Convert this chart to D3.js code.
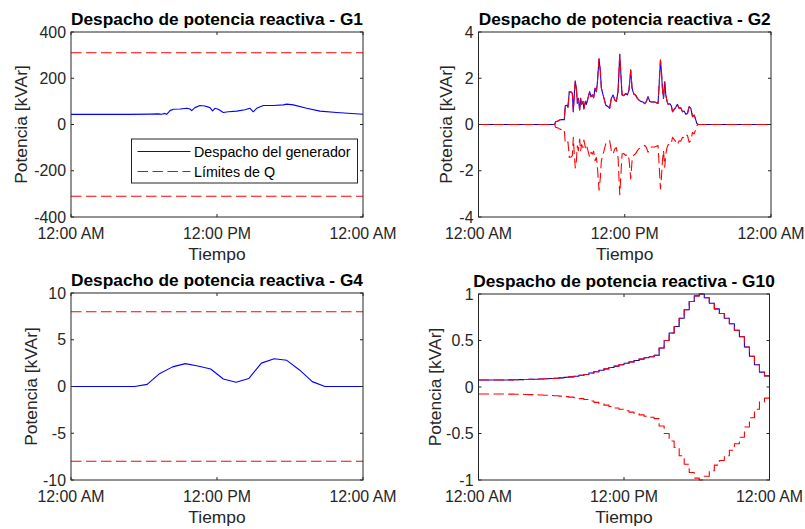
<!DOCTYPE html>
<html><head><meta charset="utf-8">
<script src="https://cdn.jsdelivr.net/npm/d3@7"></script>
<style>
html,body{margin:0;padding:0;background:#fff;}
svg{display:block;font-family:"Liberation Sans",Arial,Helvetica,sans-serif;}
</style></head>
<body><svg id="c" width="805" height="529"></svg>
<script>
// ---------- DATA ----------
const xTickHours = [0, 12, 24];
const xTickLabels = ["12:00 AM", "12:00 PM", "12:00 AM"];
const titles = ["Despacho de potencia reactiva - G1", "Despacho de potencia reactiva - G2",
                "Despacho de potencia reactiva - G4", "Despacho de potencia reactiva - G10"];
const legendLabels = ["Despacho del generador", "Límites de Q"];

// G1
const g1Hours = [0, 4.85, 6.5, 7.17, 7.45, 7.72, 7.86, 8.14, 8.41, 8.96, 9.51, 9.78, 9.92, 10.19, 10.6, 11.0, 11.42, 11.64, 11.83, 12.1, 12.52, 12.93, 13.62, 14.3, 14.71, 14.98, 15.26, 15.81, 16.63, 17.45, 17.73, 18.27, 19.37, 20.46, 21.83, 24];
const g1Disp  = [44, 44, 45, 46, 44, 48, 44, 60, 66, 67, 70, 67, 60, 73, 82, 80, 73, 59, 70, 66, 52, 55, 58, 64, 70, 55, 70, 82, 82, 85, 88, 85, 70, 58, 52, 44];
const g1Limits = [-310, 310];
const g1YTicks = [-400, -200, 0, 200, 400];

// G2
const g2Hours = [0, 6.25, 6.33, 6.52, 6.71, 7.04, 7.12, 7.26, 7.34, 7.45, 7.61, 7.70, 7.78, 7.86, 7.94, 8.03, 8.11, 8.19, 8.30, 8.38, 8.46, 8.57, 8.65, 8.77, 8.85, 8.98, 9.12, 9.23, 9.34, 9.45, 9.56, 9.67, 9.75, 9.89, 10.0, 10.08, 10.22, 10.30, 10.44, 10.63, 10.76, 10.90, 11.04, 11.18, 11.31, 11.45, 11.59, 11.67, 11.78, 11.91, 12.08, 12.22, 12.35, 12.49, 12.60, 12.68, 12.76, 12.87, 13.04, 13.15, 13.31, 13.50, 13.64, 13.78, 13.91, 14.05, 14.19, 14.46, 14.73, 14.82, 14.93, 15.01, 15.09, 15.18, 15.28, 15.37, 15.47, 15.56, 15.69, 15.83, 15.92, 16.02, 16.16, 16.32, 16.46, 16.60, 16.74, 16.87, 17.01, 17.15, 17.28, 17.42, 17.56, 17.69, 17.81, 17.91, 18.02, 24];
const g2Disp  = [0, 0, 0.12, 0.15, 0.21, 0.21, 0.81, 0.83, 0.75, 1.42, 1.40, 1.35, 0.55, 1.30, 1.88, 1.57, 0.92, 1.13, 0.63, 1.13, 0.87, 1.0, 0.67, 1.0, 0.87, 1.13, 1.42, 1.2, 1.28, 1.16, 1.57, 1.42, 1.78, 2.84, 2.29, 1.57, 1.28, 1.13, 0.84, 0.77, 0.70, 1.13, 1.28, 1.06, 1.0, 1.42, 3.04, 2.29, 1.28, 1.25, 1.34, 1.28, 1.5, 2.36, 1.57, 1.42, 1.31, 1.28, 1.13, 1.06, 1.0, 0.97, 0.9, 1.0, 1.2, 1.0, 0.97, 0.97, 0.91, 1.71, 2.79, 2.29, 1.57, 1.13, 1.85, 1.28, 1.0, 0.87, 0.9, 0.8, 0.55, 0.62, 0.72, 0.87, 0.70, 0.72, 0.55, 0.58, 0.44, 0.48, 0.77, 0.70, 0.34, 0.41, 0.23, 0.05, 0, 0];
const g2QMax = g2Disp;   // upper reactive limit follows the dispatch
const g2YTicks = [-4, -2, 0, 2, 4];

// G4 (24 samples spanning the day)
const g4Hours = [0, 1.04, 2.09, 3.13, 4.17, 5.22, 6.26, 7.30, 8.35, 9.39, 10.43, 11.48, 12.52, 13.57, 14.61, 15.65, 16.70, 17.74, 18.78, 19.83, 20.87, 21.91, 22.96, 24];
const g4Disp  = [0, 0, 0, 0, 0, 0, 0.23, 1.4, 2.1, 2.45, 2.2, 1.87, 0.8, 0.45, 0.85, 2.5, 2.97, 2.8, 1.77, 0.52, 0, 0, 0, 0];
const g4Limits = [-8, 8];
const g4YTicks = [-10, -5, 0, 5, 10];

// G10 (59 stair samples spanning the day)
const g10Disp = [0.075, 0.075, 0.075, 0.075, 0.076, 0.076, 0.077, 0.078, 0.079, 0.080,
                 0.082, 0.084, 0.086, 0.088, 0.091, 0.094, 0.098, 0.103, 0.109, 0.116,
                 0.125, 0.135, 0.15, 0.165, 0.18, 0.195, 0.21, 0.225, 0.24, 0.255,
                 0.27, 0.285, 0.30, 0.315, 0.325, 0.34, 0.42, 0.50, 0.58, 0.65,
                 0.74, 0.83, 0.92, 0.98, 1.0, 0.96, 0.90, 0.84, 0.79, 0.74,
                 0.68, 0.61, 0.54, 0.43, 0.33, 0.24, 0.16, 0.12, 0.12];
const g10Hours = g10Disp.map((_, k) => k * 24 / (g10Disp.length - 1));
const g10QMax = g10Disp;
const g10YTicks = [-1, -0.5, 0, 0.5, 1];

// ---------- DRAW ----------
const svg = d3.select("#c");
const AX = "#262626", BLUE = "#0000ff", RED = "#ff0000";
const DASH = "10.5,4.5";
const TICKFS = 15.9, LABFS = 17.4, TITFS = 17.3, LEGFS = 14.3;

const panels = [
  {box:[71, 363, 32, 217],   yd:[-400, 400], yt:g1YTicks, title:titles[0], ylx:21},
  {box:[478.5, 771, 32, 217], yd:[-4, 4], yt:g2YTicks, title:titles[1], ylx:445.5},
  {box:[71, 363, 293, 480],  yd:[-10, 10], yt:g4YTicks, title:titles[2], ylx:30.5},
  {box:[478.5, 769.5, 294, 480], yd:[-1, 1], yt:g10YTicks, title:titles[3], ylx:434.5}
];

panels.forEach((p, i) => {
  const [l, r, t, b] = p.box;
  p.x = d3.scaleLinear().domain([0, 24]).range([l, r]);
  p.y = d3.scaleLinear().domain(p.yd).range([b, t]);
  const g = svg.append("g");
  p.g = g;
  g.append("rect").attr("x", l).attr("y", t).attr("width", r - l).attr("height", b - t).attr("fill", "#fff");
  p.clip = "clip" + i;
  svg.append("clipPath").attr("id", p.clip).append("rect")
    .attr("x", l).attr("y", t - 1).attr("width", r - l).attr("height", b - t + 2);
  p.plot = g.append("g").attr("clip-path", `url(#${p.clip})`);
});

function line(p, xs, ys, color, dashed, curve) {
  const gen = d3.line().x(d => p.x(d[0])).y(d => p.y(d[1])).curve(curve || d3.curveLinear);
  p.plot.append("path").datum(xs.map((x, k) => [x, ys[k]]))
    .attr("d", gen).attr("fill", "none").attr("stroke", color)
    .attr("stroke-width", 1.1).attr("stroke-dasharray", dashed ? DASH : null)
    .attr("stroke-linejoin", "round");
}

// G1
{
  const p = panels[0];
  line(p, g1Hours, g1Disp, BLUE, false);
  g1Limits.forEach(v => line(p, [0, 24], [v, v], RED, true));
}
// G2
{
  const p = panels[1];
  line(p, g2Hours, g2Disp, BLUE, false);
  line(p, g2Hours, g2QMax, RED, true);
  line(p, g2Hours, g2QMax.map(v => -v), RED, true);
}
// G4
{
  const p = panels[2];
  line(p, g4Hours, g4Disp, BLUE, false);
  g4Limits.forEach(v => line(p, [0, 24], [v, v], RED, true));
}
// G10
{
  const p = panels[3];
  line(p, g10Hours, g10Disp, BLUE, false, d3.curveStepAfter);
  line(p, g10Hours, g10QMax, RED, true, d3.curveStepAfter);
  line(p, g10Hours, g10QMax.map(v => -v), RED, true, d3.curveStepAfter);
}

// axes, ticks, labels
panels.forEach(p => {
  const [l, r, t, b] = p.box;
  const g = p.g;
  const TL = 3;
  // x ticks (bottom + top)
  xTickHours.forEach((h, k) => {
    const x = p.x(h);
    g.append("line").attr("x1", x).attr("x2", x).attr("y1", b).attr("y2", b - TL).attr("stroke", AX);
    g.append("line").attr("x1", x).attr("x2", x).attr("y1", t).attr("y2", t + TL).attr("stroke", AX);
    g.append("text").attr("x", x).attr("y", b + 22).attr("text-anchor", "middle")
      .attr("font-size", TICKFS).attr("fill", AX).text(xTickLabels[k]);
  });
  p.yt.forEach(v => {
    const y = p.y(v);
    g.append("line").attr("x1", l).attr("x2", l + TL).attr("y1", y).attr("y2", y).attr("stroke", AX);
    g.append("line").attr("x1", r).attr("x2", r - TL).attr("y1", y).attr("y2", y).attr("stroke", AX);
    g.append("text").attr("x", l - 5).attr("y", y).attr("dy", "0.36em").attr("text-anchor", "end")
      .attr("font-size", TICKFS).attr("fill", AX).text(String(v));
  });
  g.append("rect").attr("x", l).attr("y", t).attr("width", r - l).attr("height", b - t)
    .attr("fill", "none").attr("stroke", AX).attr("stroke-width", 1);
  g.append("text").attr("x", (l + r) / 2).attr("y", t - 7).attr("text-anchor", "middle")
    .attr("font-size", TITFS).attr("font-weight", "bold").attr("fill", "#000").text(p.title);
  g.append("text").attr("x", (l + r) / 2).attr("y", b + 43).attr("text-anchor", "middle")
    .attr("font-size", LABFS).attr("fill", AX).text("Tiempo");
  g.append("text").attr("transform", `translate(${p.ylx},${(t + b) / 2}) rotate(-90)`)
    .attr("dy", "0.35em").attr("text-anchor", "middle")
    .attr("font-size", LABFS).attr("fill", AX).text("Potencia [kVAr]");
});

// legend in G1
{
  const lg = svg.append("g");
  lg.append("rect").attr("x", 131.5).attr("y", 139).attr("width", 226).attr("height", 44)
    .attr("fill", "#fff").attr("stroke", AX).attr("stroke-width", 1);
  const rows = [151.5, 171.5];
  const styles = [[BLUE, null], [RED, DASH]];
  rows.forEach((y, k) => {
    lg.append("line").attr("x1", 137.5).attr("x2", 190.5).attr("y1", y).attr("y2", y)
      .attr("stroke", styles[k][0]).attr("stroke-width", 1.1).attr("stroke-dasharray", styles[k][1]);
    lg.append("text").attr("x", 194).attr("y", y).attr("dy", "0.36em")
      .attr("font-size", LEGFS).attr("fill", "#000").text(legendLabels[k]);
  });
}
</script></body></html>
